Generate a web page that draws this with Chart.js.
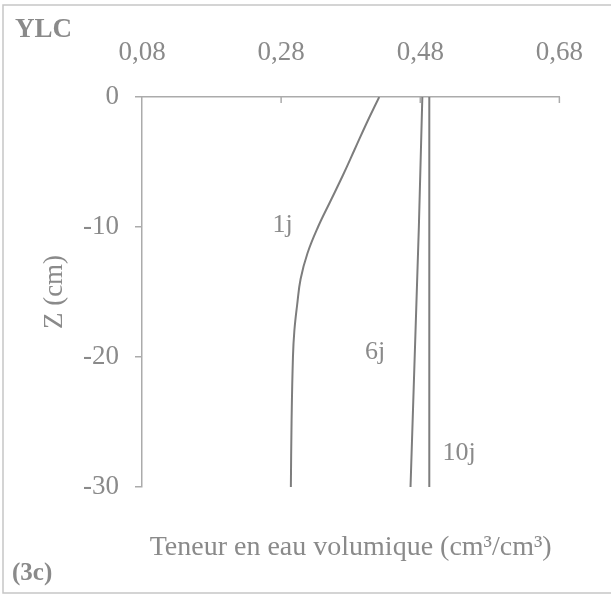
<!DOCTYPE html>
<html>
<head>
<meta charset="utf-8">
<script src="https://cdn.jsdelivr.net/npm/chart.js@4.4.1/dist/chart.umd.min.js"></script>
<style>
  html, body { margin: 0; padding: 0; background: #fff; overflow: hidden; }
  #wrap { width: 611px; height: 596px; position: relative; }
</style>
</head>
<body>
<div id="wrap"><canvas id="profil"></canvas></div>
<script>
// water content profiles (cm3/cm3) against depth Z (cm)
var depth1j = [0, -2, -4, -6, -8, -10, -12, -14, -16, -18, -20, -25, -30];
var theta1j = [0.421, 0.403, 0.386, 0.369, 0.351, 0.333, 0.318, 0.308, 0.303, 0.299, 0.297, 0.295, 0.294];
var depth6j = [0, -10, -20, -30];
var theta6j = [0.483, 0.478, 0.472, 0.466];
var depth10j = [0, -30];
var theta10j = [0.493, 0.493];

var seriesNames = ['1j', '6j', '10j'];
var labelTheta = [0.282, 0.415, 0.536];
var labelDepth = [-9.85, -19.6, -27.4];

var xTicks = [0.08, 0.28, 0.48, 0.68];
var yTicks = [0, -10, -20, -30];

var textGrey = '#8a8a8a';
var axisGrey = '#ababab';
var lineGrey = '#7d7d7d';
var serif = '"Liberation Serif", "Times New Roman", serif';

function pts(zs, th) {
  return zs.map(function (z, i) { return { x: th[i], y: z }; });
}

// frame, panel letters, curve names, inner ticks of the top axis
var extras = {
  id: 'extras',
  afterDraw: function (chart) {
    var ctx = chart.ctx;
    var xs = chart.scales.x, ys = chart.scales.y;
    ctx.save();
    ctx.strokeStyle = '#c6c6c6';
    ctx.lineWidth = 1.5;
    ctx.beginPath();
    ctx.moveTo(611, 5); ctx.lineTo(3, 5); ctx.lineTo(3, 593); ctx.lineTo(611, 593);
    ctx.stroke();

    ctx.strokeStyle = axisGrey;
    ctx.lineWidth = 1.5;
    xTicks.slice(1).forEach(function (v) {
      var px = xs.getPixelForValue(v);
      ctx.beginPath();
      ctx.moveTo(px, chart.chartArea.top);
      ctx.lineTo(px, chart.chartArea.top + 6);
      ctx.stroke();
    });

    ctx.fillStyle = textGrey;
    ctx.textBaseline = 'alphabetic';
    ctx.textAlign = 'left';
    ctx.font = 'bold 27px ' + serif;
    ctx.fillText('YLC', 15, 37);
    ctx.font = 'bold 25px ' + serif;
    ctx.fillText('(3c)', 12, 580);

    ctx.font = '26px ' + serif;
    ctx.textAlign = 'center';
    ctx.textBaseline = 'middle';
    seriesNames.forEach(function (n, i) {
      ctx.fillText(n, xs.getPixelForValue(labelTheta[i]), ys.getPixelForValue(labelDepth[i]));
    });
    ctx.restore();
  }
};

var ds = function (label, data, tension) {
  return {
    label: label,
    data: data,
    showLine: true,
    borderColor: lineGrey,
    backgroundColor: lineGrey,
    borderWidth: 2,
    pointRadius: 0,
    tension: tension,
    xAxisID: 'x',
    yAxisID: 'y'
  };
};

new Chart(document.getElementById('profil'), {
  type: 'scatter',
  data: {
    datasets: [
      ds('1j', pts(depth1j, theta1j), 0.4),
      ds('6j', pts(depth6j, theta6j), 0),
      ds('10j', pts(depth10j, theta10j), 0)
    ]
  },
  options: {
    responsive: true,
    maintainAspectRatio: false,
    animation: false,
    layout: { padding: { left: 39, top: 0, right: 50, bottom: 0 } },
    plugins: {
      legend: { display: false },
      tooltip: { enabled: false }
    },
    scales: {
      x: {
        type: 'linear',
        position: 'top',
        min: 0.08,
        max: 0.68,
        afterBuildTicks: function (s) { s.ticks = xTicks.map(function (v) { return { value: v }; }); },
        afterFit: function (s) { s.height = 97; },
        ticks: {
          color: textGrey,
          font: { family: serif, size: 27 },
          padding: 28,
          maxRotation: 0,
          callback: function (v) { return v.toFixed(2).replace('.', ','); }
        },
        grid: { drawOnChartArea: false, drawTicks: false },
        border: { display: true, color: axisGrey, width: 1.5 }
      },
      // bottom axis only carries the axis title
      xTitle: {
        type: 'linear',
        position: 'bottom',
        min: 0.08,
        max: 0.68,
        afterFit: function (s) { s.height = 109; },
        ticks: { display: false },
        grid: { display: false, drawTicks: false },
        border: { display: false },
        title: {
          display: true,
          text: 'Teneur en eau volumique (cm³/cm³)',
          color: textGrey,
          font: { family: serif, size: 28 },
          padding: { top: 0, bottom: 32 }
        }
      },
      y: {
        type: 'linear',
        min: -30,
        max: 0,
        afterBuildTicks: function (s) { s.ticks = yTicks.map(function (v) { return { value: v }; }); },
        afterFit: function (s) { s.width = 103; },
        ticks: {
          color: textGrey,
          font: { family: serif, size: 27 },
          padding: 16
        },
        grid: { drawOnChartArea: false, drawTicks: true, tickLength: 7, color: axisGrey, lineWidth: 1.5 },
        border: { display: true, color: axisGrey, width: 1.5 },
        title: {
          display: true,
          text: 'Z (cm)',
          color: textGrey,
          font: { family: serif, size: 27 },
          padding: { top: 0, bottom: 0 }
        }
      }
    }
  },
  plugins: [extras]
});
</script>
</body>
</html>
